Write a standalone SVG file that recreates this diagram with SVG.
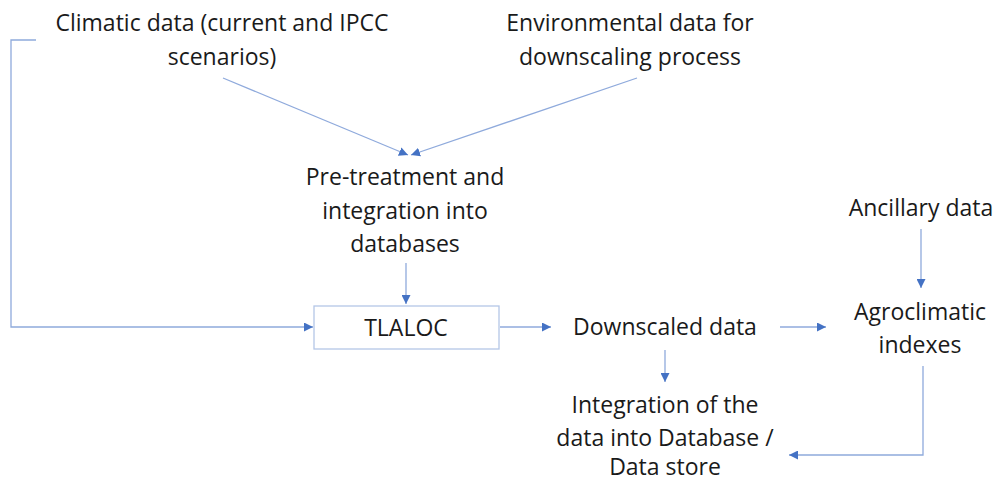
<svg xmlns="http://www.w3.org/2000/svg" width="998" height="481" viewBox="0 0 998 481">
<style>
text{font-family:"Open Sans","Liberation Sans",sans-serif;font-size:23px;fill:#1a1a1a;text-anchor:middle}
.c{fill:none;stroke:#8FAADC;stroke-width:1.3}
</style>
<defs>
<marker id="a" viewBox="0 0 10 10" refX="10" refY="5" markerWidth="9" markerHeight="9" markerUnits="userSpaceOnUse" orient="auto">
<path d="M0,0L10,5L0,10z" fill="#4472C4"/>
</marker>
</defs>
<rect width="998" height="481" fill="#fff"/>
<g id="connectors">
<path class="c" d="M223,78L408,155" marker-end="url(#a)"/>
<path class="c" d="M637,78L411,155" marker-end="url(#a)"/>
<path class="c" d="M406,263L406,304" marker-end="url(#a)"/>
<path class="c" d="M36,40L11,40L11,327L313,327" marker-end="url(#a)"/>
<path class="c" d="M500,327L551,327" marker-end="url(#a)"/>
<path class="c" d="M780,327L826,327" marker-end="url(#a)"/>
<path class="c" d="M921,229L921,288" marker-end="url(#a)"/>
<path class="c" d="M665,350L665,382" marker-end="url(#a)"/>
<path class="c" d="M923,366L923,455L789,455" marker-end="url(#a)"/>
</g>
<g id="climatic"><text x="222" y="31">Climatic data (current and IPCC</text><text x="222" y="65">scenarios)</text></g>
<g id="environmental"><text x="630" y="31">Environmental data for</text><text x="630" y="65">downscaling process</text></g>
<g id="pretreatment"><text x="405" y="185">Pre-treatment and</text><text x="405" y="219">integration into</text><text x="405" y="252">databases</text></g>
<g id="tlaloc"><rect x="314" y="306" width="185" height="43" fill="#fff" stroke="#B4C7E7" stroke-width="1.3"/><text x="406" y="336">TLALOC</text></g>
<g id="downscaled"><text x="665" y="335">Downscaled data</text></g>
<g id="ancillary"><text x="921" y="216">Ancillary data</text></g>
<g id="agroclimatic"><text x="920" y="320">Agroclimatic</text><text x="920" y="353">indexes</text></g>
<g id="integration"><text x="665" y="413">Integration of the</text><text x="665" y="446">data into Database /</text><text x="665" y="475">Data store</text></g>
</svg>
